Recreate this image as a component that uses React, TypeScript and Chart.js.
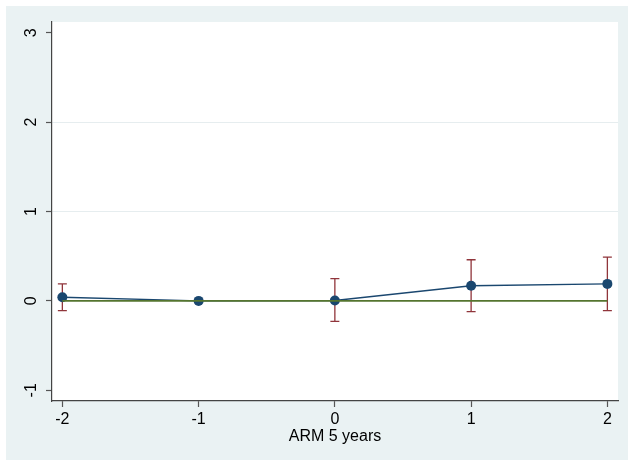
import React, { useEffect, useRef } from "react";
import { Chart, registerables } from "chart.js";

Chart.register(...registerables);

const xValues = [-2, -1, 0, 1, 2];
const estimates = [0.04, 0, 0.005, 0.17, 0.19];
const ciLow: (number | null)[] = [-0.11, null, -0.23, -0.12, -0.11];
const ciHigh: (number | null)[] = [0.19, null, 0.25, 0.46, 0.49];
const yTicks = [-1, 0, 1, 2, 3];
const xTicks = [-2, -1, 0, 1, 2];
const xTitle = "ARM 5 years";

const NAVY = "#1A476F";
const MAROON = "#90353B";
const GREEN = "#55752F";
const BG = "#EAF2F3";
const FONT = "'Liberation Sans', Arial, Helvetica, sans-serif";

const bgPlugin = {
  id: "bgPlugin",
  beforeDraw(chart: any) {
    const { ctx, chartArea } = chart;
    ctx.save();
    ctx.fillStyle = "#ffffff";
    ctx.fillRect(0, 0, chart.width, chart.height);
    ctx.fillStyle = BG;
    ctx.fillRect(6, 6, chart.width - 6, chart.height - 6);
    ctx.fillStyle = "#ffffff";
    ctx.fillRect(chartArea.left, chartArea.top, chartArea.right - chartArea.left, chartArea.bottom - chartArea.top);
    ctx.restore();
  },
};

const errorBarPlugin = {
  id: "errorBarPlugin",
  beforeDatasetsDraw(chart: any) {
    const { ctx, scales } = chart;
    const xs = scales.x;
    const ys = scales.y;
    ctx.save();
    ctx.strokeStyle = MAROON;
    ctx.lineWidth = 1.3;
    const cap = 4.5;
    xValues.forEach((xv, i) => {
      const lo = ciLow[i];
      const hi = ciHigh[i];
      if (lo === null || hi === null) return;
      const px = xs.getPixelForValue(xv);
      const pl = ys.getPixelForValue(lo);
      const ph = ys.getPixelForValue(hi);
      ctx.beginPath();
      ctx.moveTo(px, pl);
      ctx.lineTo(px, ph);
      ctx.moveTo(px - cap, pl);
      ctx.lineTo(px + cap, pl);
      ctx.moveTo(px - cap, ph);
      ctx.lineTo(px + cap, ph);
      ctx.stroke();
    });
    ctx.restore();
  },
};

export default function App() {
  const ref = useRef<HTMLCanvasElement | null>(null);

  useEffect(() => {
    document.body.style.margin = "0";
    if (!ref.current) return;
    const chart = new Chart(ref.current, {
      type: "line",
      data: {
        datasets: [
          {
            label: "zero",
            data: [
              { x: xTicks[0], y: 0 },
              { x: xTicks[xTicks.length - 1], y: 0 },
            ],
            borderColor: GREEN,
            borderWidth: 1.6,
            pointRadius: 0,
            order: 0,
          },
          {
            label: "estimate",
            data: xValues.map((x, i) => ({ x, y: estimates[i] })),
            borderColor: NAVY,
            backgroundColor: NAVY,
            borderWidth: 1.4,
            pointRadius: 5,
            pointBorderWidth: 0,
            pointBackgroundColor: NAVY,
            order: 1,
          },
        ],
      },
      options: {
        responsive: false,
        animation: false,
        devicePixelRatio: 1,
        layout: { padding: { left: 0, top: 22, right: 10, bottom: 0 } },
        plugins: {
          legend: { display: false },
          tooltip: { enabled: false },
        },
        scales: {
          x: {
            type: "linear",
            min: -2.076,
            max: 2.078,
            afterBuildTicks: (s: any) => {
              s.ticks = xTicks.map((v) => ({ value: v }));
            },
            afterFit: (s: any) => {
              s.height = 59;
            },
            grid: {
              drawOnChartArea: false,
              drawTicks: true,
              tickLength: 6,
              tickColor: "#555555",
              tickWidth: 1.2,
            },
            border: { display: true, color: "#444444", width: 1.2 },
            ticks: {
              color: "#000000",
              font: { family: FONT, size: 16 },
              padding: 3,
              maxRotation: 0,
              minRotation: 0,
              callback: (v: any) => String(v),
            },
            title: {
              display: true,
              text: xTitle,
              color: "#000000",
              font: { family: FONT, size: 16 },
              padding: { top: 0, bottom: 14 },
            },
          },
          y: {
            type: "linear",
            min: -1.12,
            max: 3.12,
            afterBuildTicks: (s: any) => {
              s.ticks = yTicks.map((v) => ({ value: v }));
            },
            afterFit: (s: any) => {
              s.width = 52;
            },
            grid: {
              drawOnChartArea: true,
              drawTicks: true,
              tickLength: 6,
              tickColor: "#555555",
              tickWidth: 1.2,
              lineWidth: 1,
              color: (c: any) =>
                c.tick && (c.tick.value === 1 || c.tick.value === 2) ? "#E6EDEF" : "rgba(0,0,0,0)",
            },
            border: { display: true, color: "#444444", width: 1.2 },
            ticks: {
              color: "#000000",
              font: { family: FONT, size: 16 },
              padding: 7,
              minRotation: 90,
              maxRotation: 90,
              crossAlign: "center",
              callback: (v: any) => String(v),
            },
          },
        },
      },
      plugins: [bgPlugin, errorBarPlugin],
    } as any);
    return () => chart.destroy();
  }, []);

  return (
    <canvas
      ref={ref}
      width={628}
      height={460}
      style={{ display: "block", width: 628, height: 460 }}
    />
  );
}
